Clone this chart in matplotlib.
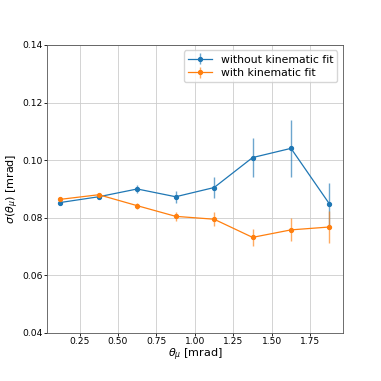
import matplotlib
matplotlib.use('Agg')
import matplotlib.pyplot as plt

# bin centres [mrad]
theta = [0.125, 0.375, 0.625, 0.875, 1.125, 1.375, 1.625, 1.875]

# resolution without kinematic fit
sig_nofit = [0.0853, 0.0873, 0.0900, 0.0873, 0.0905, 0.1009, 0.1041, 0.0848]
err_nofit = [0.0004, 0.0005, 0.0014, 0.0020, 0.0038, 0.0067, 0.0100, 0.0072]

# resolution with kinematic fit
sig_fit = [0.0864, 0.0880, 0.0842, 0.0805, 0.0795, 0.0732, 0.0758, 0.0768]
err_fit = [0.0004, 0.0005, 0.0010, 0.0016, 0.0024, 0.0030, 0.0040, 0.0055]

fig, ax = plt.subplots(figsize=(3.81, 3.81), dpi=100)
plt.subplots_adjust(left=0.123, right=0.900, bottom=0.126, top=0.882)

for y, e, c, lab in [(sig_nofit, err_nofit, '#1f77b4', 'without kinematic fit'),
                     (sig_fit, err_fit, '#ff7f0e', 'with kinematic fit')]:
    cont = ax.errorbar(theta, y, yerr=e, fmt='o-', color=c,
                       markersize=2.8, linewidth=0.9, elinewidth=1.0,
                       label=lab)
    for lc in cont[2]:
        lc.set_alpha(0.65)

ax.set_ylim(0.04, 0.14)
ax.set_xticks([0.25, 0.5, 0.75, 1.0, 1.25, 1.5, 1.75])
ax.tick_params(labelsize=6.6, length=2, width=0.6, pad=1.2)
ax.set_xlabel(r'$\theta_\mu$ [mrad]', fontsize=8, labelpad=0)
ax.set_ylabel(r'$\sigma(\theta_\mu)$ [mrad]', fontsize=8, labelpad=1)
ax.grid(True, color='#cccccc', linewidth=0.6)
for sp in ax.spines.values():
    sp.set_linewidth(0.6)
    sp.set_color('#555555')

ax.legend(loc='upper right', fontsize=7.8, handlelength=2.2,
          borderpad=0.4, labelspacing=0.3, framealpha=0.8)

plt.savefig('out.png', dpi=100)
